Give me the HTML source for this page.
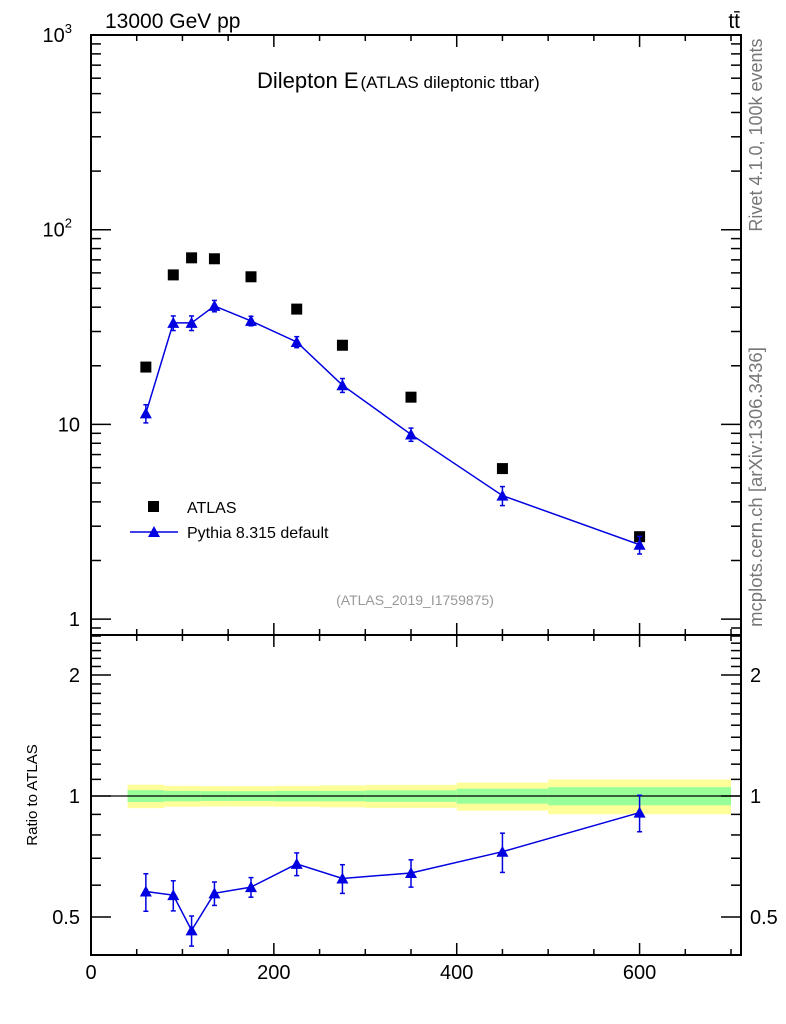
<!DOCTYPE html>
<html><head><meta charset="utf-8"><style>
html,body{margin:0;padding:0;background:#fff;}
svg{display:block;font-family:"Liberation Sans",sans-serif;}
</style></head><body>
<svg id="chart" width="786" height="1024" viewBox="0 0 786 1024" xmlns="http://www.w3.org/2000/svg">
<g id="bands"></g>
<g id="axes"></g>
<g id="marks"></g>
<text x="105" y="28" font-size="21">13000 GeV pp</text>
<text x="740" y="28" font-size="21" text-anchor="end">tt̄</text>
<text x="257" y="88" font-size="22">Dilepton E<tspan font-size="17" dx="2">(ATLAS dileptonic ttbar)</tspan></text>
<text x="415" y="605" font-size="14" fill="#999" text-anchor="middle">(ATLAS_2019_I1759875)</text>
<text transform="translate(762,135) rotate(-90)" font-size="18" fill="#777" text-anchor="middle">Rivet 4.1.0,  100k events</text>
<text transform="translate(762,487) rotate(-90)" font-size="18.5" fill="#777" text-anchor="middle">mcplots.cern.ch [arXiv:1306.3436]</text>
<text transform="translate(37,795) rotate(-90)" font-size="15" text-anchor="middle">Ratio to ATLAS</text>
<g>
<rect x="148" y="501" width="11" height="11" fill="#000"/>
<text x="187" y="513" font-size="16">ATLAS</text>
<line x1="130" y1="532" x2="178" y2="532" stroke="#0000e0" stroke-width="1.5"/>
<polygon points="148,537 160,537 154,526" fill="#0000e0"/>
<text x="187" y="538" font-size="16">Pythia 8.315 default</text>
</g>
</svg>
<script>
const xCenters=[60,90,110,135,175,225,275,350,450,600];
const atlasVals=[19.7,58.6,71.7,70.9,57.3,39.1,25.5,13.8,5.93,2.65];
const pythiaVals=[11.4,33.2,33.2,40.6,34.0,26.5,15.9,8.88,4.31,2.41];
const pythiaRelErr=[0.107,0.086,0.086,0.067,0.056,0.065,0.082,0.078,0.112,0.104];
const binEdges=[40,80,100,120,150,200,250,300,400,500,700];
const bandYellow=[0.067,0.06,0.06,0.058,0.058,0.06,0.063,0.066,0.08,0.099];
const bandGreen=[0.034,0.03,0.03,0.028,0.028,0.03,0.03,0.033,0.043,0.052];
const xTicks=[0,200,400,600];
const NS="http://www.w3.org/2000/svg";
const L=91,R=741,T=35,M=635,B=955;
const X=v=>L+v*0.9143;
const Y=v=>T+(3-Math.log10(v))*194.7;
const YR=v=>796-Math.log2(v)*121;
function mk(tag,attrs,parent){const e=document.createElementNS(NS,tag);for(const k in attrs)e.setAttribute(k,attrs[k]);parent.appendChild(e);return e;}
const axes=document.getElementById('axes'),marks=document.getElementById('marks'),bands=document.getElementById('bands');
for(let i=0;i<binEdges.length-1;i++){
 const x1=X(binEdges[i]),x2=X(binEdges[i+1]);
 let r=mk('rect',{x:x1,y:YR(1+bandYellow[i]),width:x2-x1,height:YR(1-bandYellow[i])-YR(1+bandYellow[i]),fill:'#ffff99'},bands);
 
 
 let g=mk('rect',{x:x1,y:YR(1+bandGreen[i]),width:x2-x1,height:YR(1-bandGreen[i])-YR(1+bandGreen[i]),fill:'#99ff99'},bands);
 
 
}
mk('line',{x1:L,x2:R,y1:YR(1),y2:YR(1),stroke:'#000','stroke-width':1.3},axes);
let f1=mk('rect',{x:L,y:T,width:R-L,height:M-T,fill:'none',stroke:'#000','stroke-width':2},axes);


let f2=mk('rect',{x:L,y:M,width:R-L,height:B-M,fill:'none',stroke:'#000','stroke-width':2},axes);


function tk(x1,y1,x2,y2){mk('line',{x1,y1,x2,y2,stroke:'#000','stroke-width':1.5},axes);}
for(let v=0;v<=700;v+=50){
 const x=X(v),len=(v%200===0)?12:6;
 [T,M].forEach(y=>tk(x,y,x,y+len));
 [M,B].forEach(y=>tk(x,y,x,y-len));
}
xTicks.forEach(v=>{let t=mk('text',{x:X(v),y:979,'font-size':20,'text-anchor':'middle'},axes);t.textContent=v;
 
 });
for(let d=0;d<3;d++)for(let m=1;m<10;m++){
 const v=m*Math.pow(10,d),y=Y(v);if(y>M||y<T)continue;
 const len=m===1?20:10;tk(L,y,L+len,y);tk(R,y,R-len,y);
}
for(let m=8;m<10;m++){const y=Y(m/10);if(y<=M){tk(L,y,L+10,y);tk(R,y,R-10,y);}}
const yl=[[1000,'10','3'],[100,'10','2'],[10,'10',''],[1,'1','']];
yl.forEach(([v,b,e])=>{let t=mk('text',{x:e?72:80,y:Y(v)+7,'font-size':20,'text-anchor':'end'},axes);
 t.textContent=b;if(e){const s=mk('tspan',{dy:-9,'font-size':13},t);s.textContent=e;}
 
 });
for(let v=0.4;v<=2.55;v+=0.1){
 const vv=Math.round(v*10)/10,y=YR(vv);if(y<M||y>B)continue;
 const len=(vv===0.5||vv===1||vv===2)?20:10;tk(L,y,L+len,y);tk(R,y,R-len,y);
}
[[2,'2'],[1,'1'],[0.5,'0.5']].forEach(([v,s])=>{
 let t=mk('text',{x:80,y:YR(v)+7,'font-size':20,'text-anchor':'end'},axes);t.textContent=s;
 
 
 let t2=mk('text',{x:750,y:YR(v)+7,'font-size':20},axes);t2.textContent=s;
 
 
});
const blue='#0000e0';
function tri(x,y){let p=mk('polygon',{points:`${x-6},${y+5} ${x+6},${y+5} ${x},${y-6}`,fill:blue},marks);return p;}
let pl=mk('polyline',{points:xCenters.map((x,i)=>X(x)+','+Y(pythiaVals[i])).join(' '),fill:'none',stroke:blue,'stroke-width':1.5},marks);


let rl=mk('polyline',{points:xCenters.map((x,i)=>X(x)+','+YR(pythiaVals[i]/atlasVals[i])).join(' '),fill:'none',stroke:blue,'stroke-width':1.5},marks);


xCenters.forEach((xv,i)=>{
 const x=X(xv);
 let s=mk('rect',{x:x-5.5,y:Y(atlasVals[i])-5.5,width:11,height:11,fill:'#000'},marks);
 
 
 const p=pythiaVals[i],e=pythiaRelErr[i];
 const y1=Y(p*(1+e)),y2=Y(p*(1-e));
 mk('line',{x1:x,x2:x,y1,y2,stroke:blue,'stroke-width':1.5},marks);
 mk('line',{x1:x-2.5,x2:x+2.5,y1,y2:y1,stroke:blue,'stroke-width':1.5},marks);
 mk('line',{x1:x-2.5,x2:x+2.5,y1:y2,y2,stroke:blue,'stroke-width':1.5},marks);
 let t=tri(x,Y(p));
 
 
 const r=p/atlasVals[i],r1=YR(r*(1+e)),r2=YR(r*(1-e));
 mk('line',{x1:x,x2:x,y1:r1,y2:r2,stroke:blue,'stroke-width':1.5},marks);
 mk('line',{x1:x-2.5,x2:x+2.5,y1:r1,y2:r1,stroke:blue,'stroke-width':1.5},marks);
 mk('line',{x1:x-2.5,x2:x+2.5,y1:r2,y2:r2,stroke:blue,'stroke-width':1.5},marks);
 let rt=tri(x,YR(r));
 
 
});
</script>
</body></html>
